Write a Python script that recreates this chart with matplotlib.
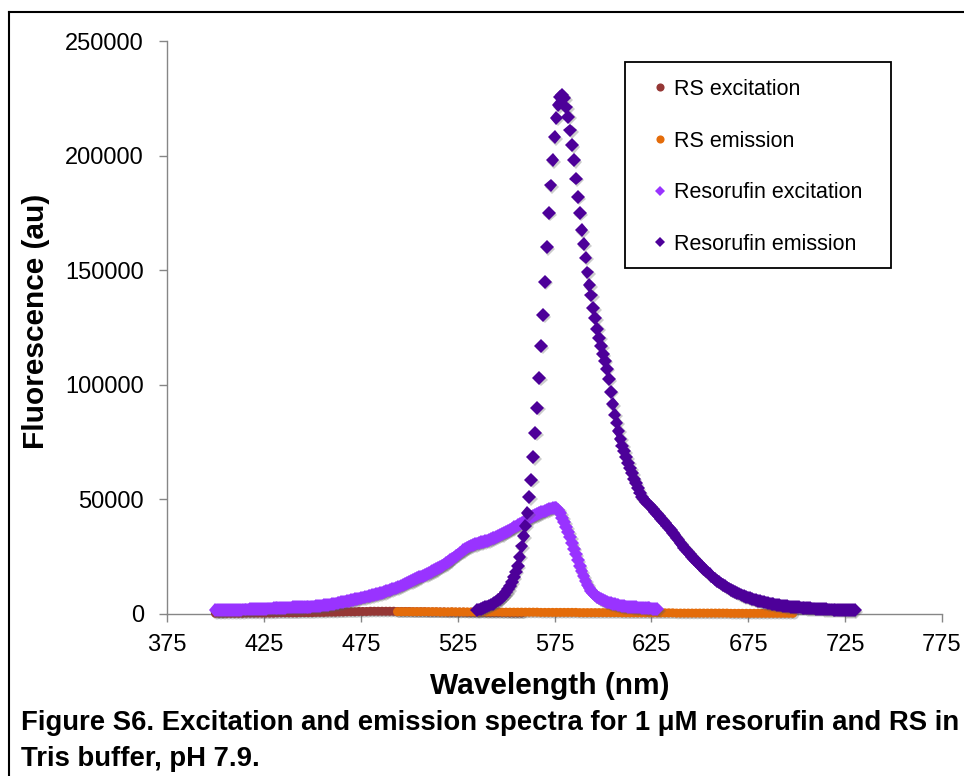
import numpy as np
import matplotlib
matplotlib.use("Agg")
import matplotlib.pyplot as plt
import matplotlib.patheffects as pe
from matplotlib.lines import Line2D
from matplotlib.patches import Rectangle
from matplotlib.ticker import FormatStrFormatter

plt.rcParams['font.family'] = ['Liberation Sans', 'DejaVu Sans']

# series, values (fluorescence in thousands of au)
labels = ["RS excitation", "RS emission", "Resorufin excitation", "Resorufin emission"]
colors = ["#953735", "#E46C0A", "#9933FF", "#4D0099"]

# RS excitation, 400-558 nm, every 2 nm
rs_exc_start, rs_exc_step = 400, 2
rs_exc_k = [0.3, 0.3, 0.3, 0.3, 0.3, 0.3, 0.3, 0.3, 0.4, 0.4,
            0.4, 0.4, 0.4, 0.4, 0.4, 0.4, 0.5, 0.5, 0.5, 0.5,
            0.5, 0.5, 0.6, 0.6, 0.6, 0.6, 0.7, 0.7, 0.7, 0.8,
            0.8, 0.8, 0.9, 0.9, 1.0, 1.0, 1.0, 1.1, 1.1, 1.1,
            1.2, 1.2, 1.2, 1.2, 1.2, 1.2, 1.2, 1.1, 1.1, 1.1,
            1.1, 1.0, 1.0, 1.0, 1.0, 0.9, 0.9, 0.9, 0.9, 0.9,
            0.8, 0.8, 0.8, 0.8, 0.8, 0.7, 0.7, 0.7, 0.7, 0.7,
            0.6, 0.6, 0.6, 0.6, 0.6, 0.6, 0.5, 0.5, 0.5, 0.5]

# RS emission, 494-698 nm, every 2 nm
rs_em_start, rs_em_step = 494, 2
rs_em_k = [1.0, 1.0, 1.0, 1.0, 1.0, 1.0, 1.0, 1.0, 1.0, 1.0,
           1.0, 0.9, 0.9, 0.9, 1.0, 0.9, 0.9, 0.9, 0.9, 0.9,
           0.9, 0.9, 0.9, 0.9, 0.9, 0.9, 0.9, 0.8, 0.8, 0.8,
           0.8, 0.8, 0.8, 0.8, 0.8, 0.8, 0.8, 0.7, 0.7, 0.7,
           0.7, 0.7, 0.7, 0.7, 0.7, 0.7, 0.7, 0.6, 0.6, 0.6,
           0.6, 0.6, 0.6, 0.6, 0.6, 0.6, 0.6, 0.6, 0.5, 0.5,
           0.5, 0.5, 0.5, 0.5, 0.5, 0.5, 0.5, 0.5, 0.5, 0.5,
           0.5, 0.5, 0.4, 0.4, 0.4, 0.4, 0.4, 0.4, 0.4, 0.4,
           0.4, 0.4, 0.4, 0.4, 0.4, 0.4, 0.3, 0.3, 0.3, 0.3,
           0.3, 0.3, 0.3, 0.3, 0.3, 0.3, 0.3, 0.3, 0.3, 0.3,
           0.3, 0.3, 0.3]

# Resorufin excitation, 400-628 nm, every 1 nm
res_exc_start, res_exc_step = 400, 1
res_exc_k = [1.7, 1.7, 1.7, 1.7, 1.7, 1.8, 1.8, 1.8, 1.8, 1.8,
             1.9, 1.9, 1.9, 1.9, 2.0, 2.0, 2.0, 2.0, 2.1, 2.1,
             2.1, 2.2, 2.2, 2.2, 2.3, 2.3, 2.3, 2.4, 2.4, 2.4,
             2.5, 2.5, 2.6, 2.6, 2.7, 2.7, 2.7, 2.8, 2.8, 2.8,
             2.9, 2.9, 2.9, 3.0, 3.0, 3.0, 3.1, 3.1, 3.2, 3.2,
             3.3, 3.3, 3.4, 3.5, 3.6, 3.7, 3.8, 3.9, 4.0, 4.1,
             4.3, 4.4, 4.6, 4.8, 5.0, 5.2, 5.3, 5.5, 5.7, 5.8,
             6.0, 6.2, 6.4, 6.6, 6.8, 7.0, 7.2, 7.4, 7.6, 7.8,
             8.0, 8.2, 8.4, 8.6, 8.8, 9.0, 9.3, 9.6, 9.9, 10.2,
             10.5, 10.8, 11.1, 11.4, 11.7, 12.0, 12.4, 12.8, 13.2, 13.6,
             14.0, 14.4, 14.8, 15.2, 15.6, 16.0, 16.4, 16.7, 17.1, 17.4,
             17.8, 18.2, 18.6, 19.1, 19.6, 20.1, 20.6, 21.1, 21.6, 22.2,
             22.8, 23.4, 24.1, 24.7, 25.4, 26.0, 26.7, 27.3, 27.9, 28.5,
             29.0, 29.5, 29.9, 30.2, 30.5, 30.8, 31.0, 31.3, 31.5, 31.8,
             32.0, 32.3, 32.6, 33.0, 33.3, 33.7, 34.1, 34.5, 34.9, 35.4,
             35.8, 36.3, 36.8, 37.3, 37.8, 38.2, 38.7, 39.2, 39.8, 40.3,
             40.8, 41.3, 41.8, 42.3, 42.8, 43.2, 43.6, 44.0, 44.4, 44.7,
             45.0, 45.3, 45.7, 46.0, 46.3, 46.5, 46.3, 45.5, 44.0, 42.0,
             40.0, 38.0, 35.8, 33.5, 31.0, 28.5, 26.0, 23.5, 21.0, 18.7,
             16.5, 14.5, 12.8, 11.3, 10.0, 9.0, 8.2, 7.5, 6.9, 6.4,
             6.0, 5.6, 5.3, 5.0, 4.7, 4.5, 4.3, 4.1, 3.9, 3.7,
             3.5, 3.4, 3.3, 3.2, 3.1, 3.0, 2.9, 2.9, 2.8, 2.8,
             2.7, 2.7, 2.6, 2.5, 2.5, 2.4, 2.3, 2.2, 2.1]

# Resorufin emission, 535-730 nm, every 1 nm
res_em_start, res_em_step = 535, 1
res_em_k = [1.7, 2.0, 2.3, 2.6, 2.9,
            3.3, 3.7, 4.1, 4.5, 4.9, 5.4, 6.0, 6.7, 7.5, 8.4,
            9.5, 10.8, 12.3, 14.0, 16.0, 18.5, 21.0, 25.0, 29.5, 34.0,
            38.5, 44.0, 51.0, 58.5, 68.5, 79.0, 90.0, 103.0, 117.0, 130.5,
            145.0, 160.0, 175.0, 187.0, 198.0, 208.0, 216.5, 222.0, 225.5, 226.5,
            225.0, 221.0, 217.0, 211.0, 204.5, 198.0, 190.0, 182.0, 175.0, 167.5,
            161.5, 155.5, 149.0, 143.5, 139.0, 133.5, 129.0, 124.5, 120.5, 117.0,
            113.5, 110.5, 107.0, 102.5, 97.0, 91.5, 87.0, 83.5, 80.0, 76.5,
            73.5, 71.0, 68.5, 66.0, 63.5, 61.5, 59.0, 57.0, 55.0, 53.0,
            51.0, 50.0, 49.0, 48.2, 47.4, 46.6, 45.6, 44.6, 43.6, 42.6,
            41.6, 40.6, 39.6, 38.6, 37.6, 36.6, 35.5, 34.4, 33.3, 32.2,
            31.1, 30.0, 29.0, 28.0, 27.0, 26.0, 25.0, 24.1, 23.2, 22.3,
            21.4, 20.5, 19.7, 18.9, 18.1, 17.3, 16.6, 15.9, 15.2, 14.5,
            13.9, 13.3, 12.7, 12.1, 11.6, 11.1, 10.6, 10.1, 9.7, 9.3,
            8.9, 8.5, 8.1, 7.8, 7.5, 7.2, 6.9, 6.6, 6.3, 6.0,
            5.8, 5.6, 5.4, 5.2, 5.0, 4.8, 4.6, 4.4, 4.2, 4.1,
            4.0, 3.8, 3.7, 3.6, 3.5, 3.4, 3.3, 3.2, 3.1, 3.0,
            2.9, 2.9, 2.8, 2.7, 2.7, 2.6, 2.5, 2.5, 2.4, 2.4,
            2.3, 2.3, 2.2, 2.2, 2.1, 2.1, 2.0, 2.0, 2.0, 1.9,
            1.9, 1.9, 1.8, 1.8, 1.8, 1.7, 1.7, 1.7, 1.6, 1.6,
            1.6]

x_ticks = [375, 425, 475, 525, 575, 625, 675, 725, 775]
y_ticks = [0, 50000, 100000, 150000, 200000, 250000]
caption = ("Figure S6. Excitation and emission spectra for 1 \u03bcM resorufin and RS in\n"
           "Tris buffer, pH 7.9.")


def wl(start, step, vals):
    return start + step * np.arange(len(vals))


series = [
    (wl(rs_exc_start, rs_exc_step, rs_exc_k), rs_exc_k, 'o', 6.5),
    (wl(rs_em_start, rs_em_step, rs_em_k), rs_em_k, 'o', 6.5),
    (wl(res_exc_start, res_exc_step, res_exc_k), res_exc_k, 'D', 7.0),
    (wl(res_em_start, res_em_step, res_em_k), res_em_k, 'D', 7.0),
]

W, H = 964, 776
fig = plt.figure(figsize=(W / 100, H / 100), dpi=100)
ax = fig.add_axes([167 / W, 1 - 614 / H, (942 - 167) / W, (614 - 41) / H])

shadow = [pe.SimplePatchShadow(offset=(1.2, -1.2), shadow_rgbFace='0.35', alpha=0.3), pe.Normal()]
for (x, v, m, ms), c in zip(series, colors):
    ln, = ax.plot(x, np.array(v) * 1000, linestyle='none', marker=m, markersize=ms,
                  color=c, markeredgewidth=0, clip_on=False, zorder=3)
    ln.set_path_effects(shadow)

ax.set_xlim(375, 775)
ax.set_ylim(0, 250000)
ax.set_xticks(x_ticks)
ax.set_yticks(y_ticks)
ax.yaxis.set_major_formatter(FormatStrFormatter('%d'))
for s in ['top', 'right']:
    ax.spines[s].set_visible(False)
for s in ['left', 'bottom']:
    ax.spines[s].set_color('#868686')
    ax.spines[s].set_linewidth(1.0)
ax.tick_params(axis='both', direction='out', length=5.5, width=1.0, color='#868686',
               labelsize=17)
ax.tick_params(axis='y', pad=11)
ax.tick_params(axis='x', pad=9)

fig.text(550 / W, 1 - 686 / H, "Wavelength (nm)", fontsize=21.5, fontweight='bold',
         ha='center', va='center')
fig.text(36 / W, 1 - 321 / H, "Fluorescence (au)", fontsize=21.5, fontweight='bold',
         ha='center', va='center', rotation=90)

# legend frame and entries
fig.patches.append(Rectangle((625 / W, 1 - 268 / H), (891 - 625) / W, (268 - 62) / H,
                             transform=fig.transFigure, fill=False, edgecolor='black',
                             linewidth=1.3))
handles = [Line2D([], [], linestyle='none', marker=s[2],
                  markersize=s[3] * (0.9 if s[2] == 'o' else 0.75), color=c,
                  markeredgewidth=0) for s, c in zip(series, colors)]
fig.legend(handles, labels, loc='upper left', bbox_to_anchor=(649 / W, 1 - 79 / H),
           frameon=False, borderpad=0, borderaxespad=0, fontsize=15.5, handlelength=1.0,
           handletextpad=0.15, labelspacing=1.42)

fig.text(21 / W, 1 - 741 / H, caption, fontsize=19.8, fontweight='bold',
         ha='left', va='center', linespacing=1.45)

# outer frame (left and top)
fig.add_artist(Line2D([8.5 / W, 8.5 / W], [0, 1 - 12 / H], color='black', lw=1.5,
                      transform=fig.transFigure))
fig.add_artist(Line2D([8.5 / W, 1], [1 - 12 / H, 1 - 12 / H], color='black', lw=1.5,
                      transform=fig.transFigure))

fig.savefig("out.png", dpi=100)
